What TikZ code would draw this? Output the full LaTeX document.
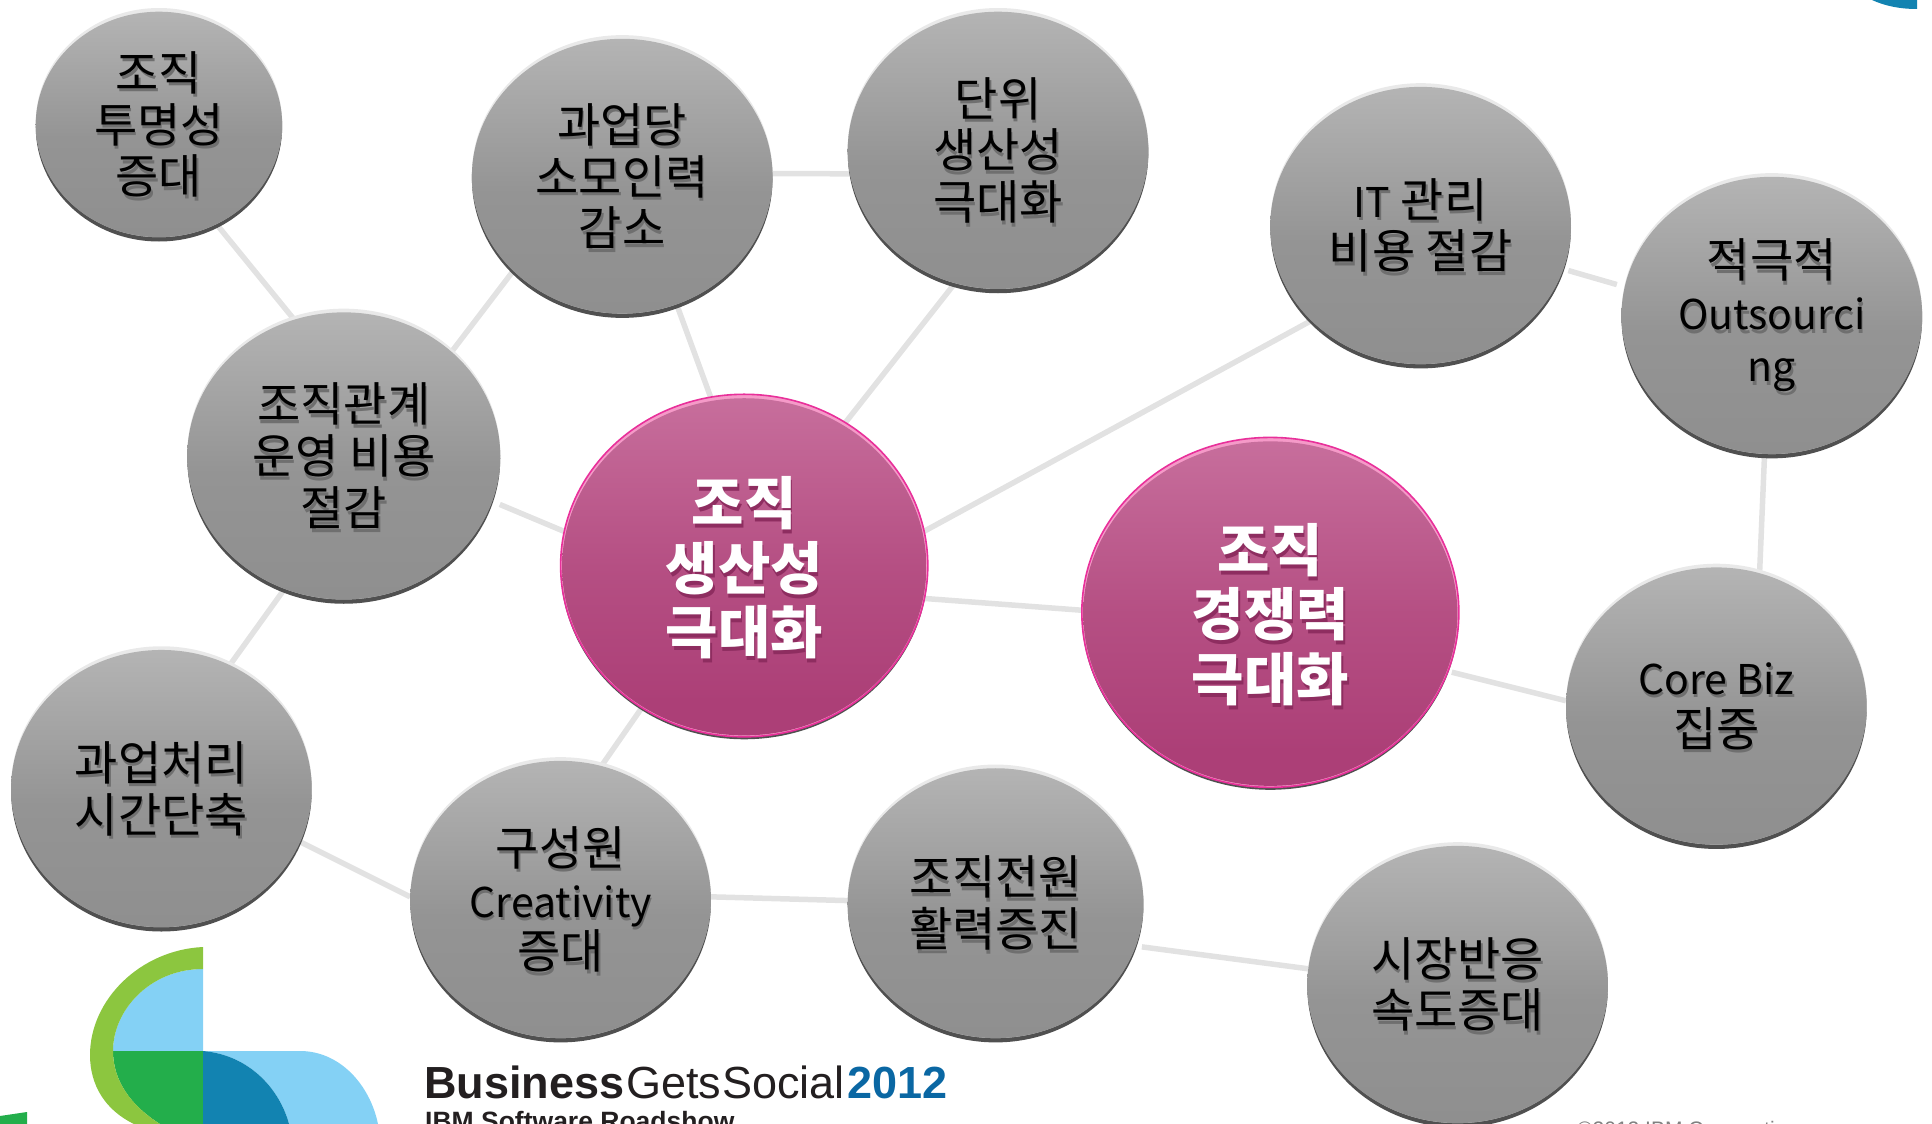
\documentclass[tikz,border=0pt]{standalone}
\usepackage{fontspec}
\usetikzlibrary{shapes.geometric,backgrounds}
\newfontfamily\kr{Noto Sans CJK KR}
\newfontfamily\ls{Liberation Sans}
\definecolor{wire}{HTML}{E2E2E2}
\definecolor{rimtop}{HTML}{E9E9E9}
\definecolor{rimlow}{HTML}{505050}
\definecolor{pinkedge}{HTML}{E8309A}
\definecolor{pinkrim}{HTML}{F59AC8}
\definecolor{gA}{HTML}{B4B4B4}
\definecolor{gB}{HTML}{8F8F8F}
\definecolor{gM}{HTML}{949494}
\definecolor{pA}{HTML}{C76E9C}
\definecolor{pB}{HTML}{AC3F77}
\definecolor{pM}{HTML}{B54F83}
\definecolor{pshadow}{HTML}{8E2D60}
\definecolor{tshadow}{HTML}{6F6F6F}
\definecolor{lgreen}{HTML}{8CC63F}
\definecolor{lblue}{HTML}{84D1F5}
\definecolor{dgreen}{HTML}{23AE4B}
\definecolor{dblue}{HTML}{1283B1}
\definecolor{logotext}{HTML}{231F20}
\definecolor{year}{HTML}{0A67A3}
\pgfdeclareverticalshading{bubgray}{100bp}{color(0bp)=(gB);color(25bp)=(gB);color(47bp)=(gM);color(75bp)=(gA);color(100bp)=(gA)}
\pgfdeclareverticalshading{bubpink}{100bp}{color(0bp)=(pB);color(30bp)=(pB);color(50bp)=(pM);color(75bp)=(pA);color(100bp)=(pA)}
\newcommand{\lat}[1]{{\fontsize{41}{51.8}\selectfont #1}}
\setlength{\lineskiplimit}{-30pt}
\tikzset{
  bubtext/.style={font=\kr\fontsize{47}{51.8}\selectfont,align=center,inner sep=0pt,text=black},
  bigtext/.style={font=\kr\bfseries\fontsize{57}{64.5}\selectfont,align=center,inner sep=0pt,text=white},
  wireline/.style={draw=wire,line width=5.5pt},
}
% name cx cy rx ry text  (units: the 1568-wide view of the picture)
\newcommand{\graybub}[6]{%
  \fill[rimlow] (#2,#3+2) ellipse [x radius=#4,y radius=#5];
  \fill[rimtop] (#2,#3-1.5) ellipse [x radius=#4,y radius=#5];
  \pgfmathsetmacro{\wpt}{2*#4*1.23214}\pgfmathsetmacro{\hpt}{2*(#5-1.5)*1.23214}
  \node[ellipse,shading=bubgray,minimum width=\wpt pt,minimum height=\hpt pt,inner sep=0pt] (#1) at (#2,#3) {};
  \node[bubtext,text=tshadow] (#1s) at ([xshift=1.5pt,yshift=-3.5pt]#1.center) {#6};
  \node[bubtext] (#1t) at (#1.center) {#6};
}
\newcommand{\pinkbub}[6]{%
  \fill[rimlow] (#2,#3+2) ellipse [x radius=#4,y radius=#5];
  \pgfmathsetmacro{\wpt}{2*#4*1.23214}\pgfmathsetmacro{\hpt}{2*#5*1.23214}
  \node[ellipse,fill=pinkrim,draw=pinkedge,line width=1.6pt,minimum width=\wpt pt,minimum height=\hpt pt,inner sep=0pt] (#1r) at (#2,#3) {};
  \pgfmathsetmacro{\wpt}{2*(#4-1.2)*1.23214}\pgfmathsetmacro{\hpt}{2*(#5-2.2)*1.23214}
  \node[ellipse,shading=bubpink,minimum width=\wpt pt,minimum height=\hpt pt,inner sep=0pt] (#1) at (#2,#3+1) {};
  \node[bigtext,text=pshadow] (#1s) at ([xshift=1.5pt,yshift=-5pt]#1.center) {#6};
  \node[bigtext] (#1t) at ([yshift=-1pt]#1.center) {#6};
}
\begin{document}
\begin{tikzpicture}[x=1.23214pt,y=-1.23214pt]
\useasboundingbox (0,0) rectangle (1568,912.23);
\clip (0,0) rectangle (1568,912.23);
% logo
\begin{scope}[x=1pt,y=-1pt]
  \fill[lblue] (203,969) .. controls (150,969) and (113,1010) .. (113,1051) -- (203,1051) -- cycle;
  \fill[dgreen] (113,1051) -- (203,1051) -- (203,1124) -- (160,1124) .. controls (130,1105) and (113,1080) .. (113,1051) -- cycle;
  \fill[lgreen] (203,947) .. controls (140,950) and (90,1000) .. (90,1055) .. controls (90,1085) and (105,1110) .. (134,1124) -- (160,1124) .. controls (130,1105) and (113,1080) .. (113,1051) .. controls (113,1010) and (150,969) .. (203,969) -- cycle;
  \fill[lblue] (203,1051) -- (300,1051) .. controls (340,1051) and (370,1085) .. (378,1124) -- (289,1124) .. controls (280,1090) and (250,1055) .. (203,1051) -- cycle;
  \fill[dblue] (203,1051) .. controls (250,1055) and (280,1090) .. (289,1124) -- (203,1124) -- cycle;
  \fill[dgreen] (0,1116) -- (27,1112) -- (27,1124) -- (0,1124) -- cycle;
  \fill[dblue] (1872,0) .. controls (1885,6) and (1900,9) .. (1917,9) -- (1917,0) -- cycle;
  \node[anchor=base west,inner sep=0pt,font=\ls\fontsize{45}{50}\selectfont,text=logotext] (brand) at (424,1098) {\textbf{Business}\kern2pt Gets\kern1pt Social\kern3pt\textcolor{year}{\textbf{2012}}};
  \node[anchor=base west,inner sep=0pt,font=\ls\bfseries\fontsize{26.5}{30}\selectfont,text=logotext] (road) at (425,1130) {IBM Software Roadshow};
  \node[anchor=base west,inner sep=0pt,font=\ls\fontsize{21}{25}\selectfont,text=gray] (copy) at (1577,1136) {©2012 IBM Corporation};
\end{scope}
% bubbles
\graybub{A}{129}{101}{100}{93}{조직\\투명성\\증대}
\graybub{B}{505}{143}{122}{113}{과업당\\소모인력\\감소}
\graybub{C}{810}{122}{122}{114}{단위\\생산성\\극대화}
\graybub{D}{1153}{183}{122}{114}{\lat{IT} 관리\\비용 절감}
\graybub{E}{1438}{256}{122}{114}{적극적\\\lat{Outsourci}\\\lat{ng}}
\graybub{F}{279}{370}{127}{118}{조직관계\\운영 비용\\절감}
\pinkbub{G}{604}{459}{149}{139}{조직\\생산성\\극대화}
\pinkbub{H}{1031}{497}{153}{142}{조직\\경쟁력\\극대화}
\graybub{I}{1393}{573}{122}{114}{\lat{Core Biz}\\집중}
\graybub{J}{131}{640}{122}{114}{과업처리\\시간단축}
\graybub{K}{455}{730}{122}{114}{구성원\\\lat{Creativity}\\증대}
\graybub{L}{808}{733}{120}{111}{조직전원\\활력증진}
\graybub{M}{1183}{799}{122}{114}{시장반응\\속도증대}
% connectors
\begin{scope}[on background layer]
  \draw[wireline] (A.300) -- (F.110);
  \draw[wireline] (B.221) -- (F.44);
  \draw[wireline] (B.1.4) -- (C.189);
  \draw[wireline] (B.293) -- (G.101);
  \draw[wireline] (C.252) -- (G.55);
  \draw[wireline,shorten <=8pt] (F.343) -- (G.169);
  \draw[wireline] (F.246.5) -- (J.61);
  \draw[wireline] (J.339) -- (K.179);
  \draw[wireline] (K.73) -- (G.234);
  \draw[wireline] (K.1.4) -- (L.179);
  \draw[wireline,shorten <=6pt] (L.343) -- (M.174);
  \draw[wireline] (G.350.5) -- (H.179);
  \draw[wireline] (G.11) -- (D.221.6);
  \draw[wireline,shorten <=5pt,shorten >=8pt] (D.343) -- (E.169);
  \draw[wireline] (E.267) -- (I.72);
  \draw[wireline,shorten <=5pt] (H.342.6) -- (I.178);
\end{scope}
\end{tikzpicture}
\end{document}
